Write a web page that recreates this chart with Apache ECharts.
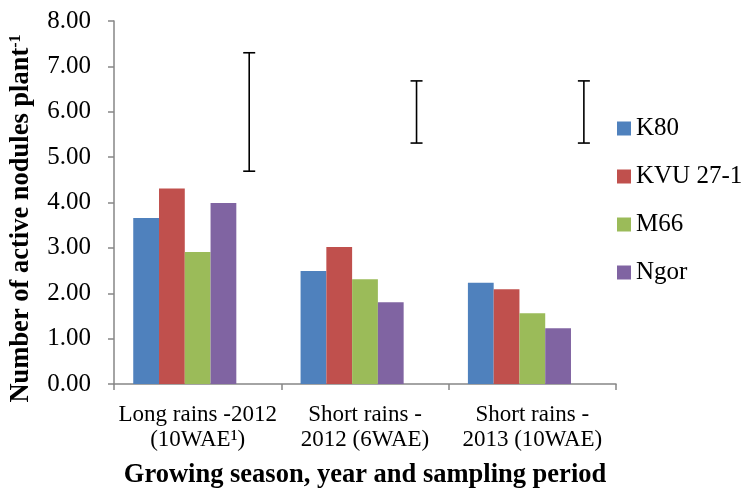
<!DOCTYPE html>
<html>
<head>
<meta charset="utf-8">
<script src="https://cdn.jsdelivr.net/npm/echarts@6/dist/echarts.min.js"></script>
<style>
html,body{margin:0;padding:0;background:#fff;}
#chart{width:749px;height:491px;}
</style>
</head>
<body>
<div id="chart"></div>
<script>
var categories = ['Long rains -2012\n(10WAE\u00B9)', 'Short rains -\n2012 (6WAE)', 'Short rains -\n2013 (10WAE)'];
var seriesNames = ['K80', 'KVU 27-1', 'M66', 'Ngor'];
var k80 = [3.66, 2.49, 2.23];
var kvu = [4.31, 3.02, 2.09];
var m66 = [2.91, 2.31, 1.56];
var ngor = [3.99, 1.80, 1.23];
var lsdLow = [4.69, 5.31, 5.31];
var lsdHigh = [7.30, 6.68, 6.68];
var yTicks = [0, 1, 2, 3, 4, 5, 6, 7, 8];
var colors = ['#4F81BD', '#C0504D', '#9BBB59', '#8064A2'];

var FONT = '"Liberation Serif", "Times New Roman", serif';
var CAT_GAP = 0.23;
var NBARS = 5;

var chart = echarts.init(document.getElementById('chart'));

var seriesData = [k80, kvu, m66, ngor];
var series = seriesNames.map(function (n, i) {
  return {
    name: n, type: 'bar', data: seriesData[i],
    barGap: '0%', barCategoryGap: (CAT_GAP * 100) + '%',
    itemStyle: { color: colors[i] }
  };
});
// invisible fifth bar slot (holds the LSD bars in the original)
series.push({
  name: 'LSD', type: 'bar', data: lsdLow.map(function () { return 0; }),
  barGap: '0%', barCategoryGap: (CAT_GAP * 100) + '%',
  itemStyle: { color: 'rgba(0,0,0,0)' }, silent: true
});
series.push({
  name: 'LSDbar', type: 'custom',
  data: lsdLow.map(function (v, i) { return [i, v, lsdHigh[i]]; }),
  renderItem: function (params, api) {
    var idx = api.value(0);
    var band = api.size([1, 0])[0];
    var barW = band * (1 - CAT_GAP) / NBARS;
    var c = api.coord([idx, 0])[0];
    var x = c - band / 2 + band * CAT_GAP / 2 + 4.5 * barW;
    var yl = api.coord([idx, api.value(1)])[1];
    var yh = api.coord([idx, api.value(2)])[1];
    var cap = 6;
    var st = { stroke: '#000', lineWidth: 1.6 };
    return {
      type: 'group',
      children: [
        { type: 'line', shape: { x1: x, y1: yl, x2: x, y2: yh }, style: st },
        { type: 'line', shape: { x1: x - cap, y1: yl, x2: x + cap, y2: yl }, style: st },
        { type: 'line', shape: { x1: x - cap, y1: yh, x2: x + cap, y2: yh }, style: st }
      ]
    };
  },
  z: 10
});

chart.setOption({
  animation: false,
  textStyle: { fontFamily: FONT },
  grid: { left: 114, right: 133, top: 21, bottom: 107, containLabel: false, outerBoundsMode: 'none' },
  legend: {
    data: seriesNames,
    orient: 'vertical',
    left: 617, top: 116,
    padding: 0,
    itemWidth: 14, itemHeight: 14,
    itemGap: 23,
    icon: 'rect',
    textStyle: { fontFamily: FONT, fontSize: 25, color: '#000', lineHeight: 22 }
  },
  xAxis: {
    type: 'category',
    data: categories,
    name: 'Growing season, year and sampling period',
    nameLocation: 'middle',
    nameGap: 78,
    nameTextStyle: { fontFamily: FONT, fontSize: 26.5, fontWeight: 'bold', color: '#000' },
    axisLine: { lineStyle: { color: '#868686', width: 1.5 } },
    axisTick: { show: true, length: 6, lineStyle: { color: '#868686', width: 1.5 } },
    axisLabel: { fontFamily: FONT, fontSize: 23, color: '#000', lineHeight: 25, margin: 18, interval: 0 }
  },
  yAxis: {
    type: 'value',
    min: yTicks[0], max: yTicks[yTicks.length - 1], interval: 1,
    name: 'Number of active nodules plant{sup|-1}',
    nameLocation: 'middle',
    nameGap: 79,
    nameTextStyle: {
      fontFamily: FONT, fontSize: 26.5, fontWeight: 'bold', color: '#000',
      padding: [0, 32, 0, 0],
      rich: { sup: { fontFamily: FONT, fontSize: 16, fontWeight: 'bold', verticalAlign: 'top', padding: [0, 0, 10, 0], color: '#000' } }
    },
    axisLine: { show: true, lineStyle: { color: '#868686', width: 1.5 } },
    axisTick: { show: true, length: 6, lineStyle: { color: '#868686', width: 1.5 } },
    splitLine: { show: false },
    axisLabel: {
      fontFamily: FONT, fontSize: 25, color: '#000', margin: 23,
      formatter: function (v) { return v.toFixed(2); }
    }
  },
  series: series
});
</script>
</body>
</html>
